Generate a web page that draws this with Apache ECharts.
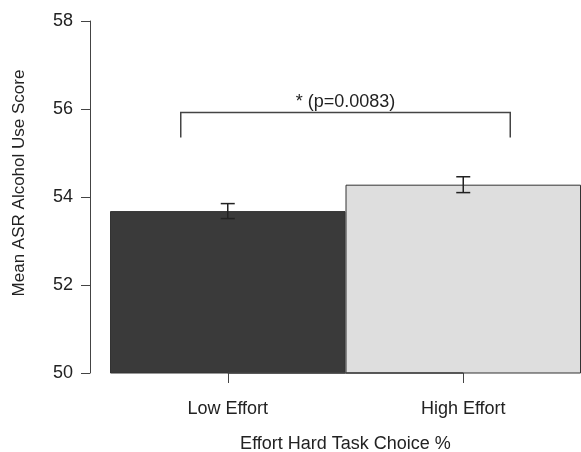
<!DOCTYPE html>
<html>
<head>
<meta charset="utf-8">
<script src="https://cdn.jsdelivr.net/npm/echarts@6/dist/echarts.min.js"></script>
<style>
  * { padding: 0; margin: 0; }
  body { background: #fff; }
  #main { width: 581px; height: 452px; }
</style>
</head>
<body>
<div id="main"></div>
<script>
// data
var categories = ['Low Effort', 'High Effort'];
var means = [53.68, 54.28];
var errLow = [53.51, 54.10];
var errHigh = [53.85, 54.46];
var barColors = ['#3a3a3a', '#dedede'];
var yTicks = [50, 52, 54, 56, 58];
// significance bracket
var bracketTop = 55.92;
var bracketFoot = 55.35;
var bracketLabel = '* (p=0.0083)';

var font = 'Liberation Sans, Arial, sans-serif';
var ink = '#222';
var lineCol = '#444';

var chart = echarts.init(document.getElementById('main'));
chart.setOption({
  backgroundColor: '#fff',
  animation: false,
  textStyle: { fontFamily: font },
  grid: { left: 110, right: 0, top: 21, bottom: 79, containLabel: false, outerBoundsMode: 'none' },
  xAxis: {
    type: 'category',
    data: categories,
    axisLine: { show: false },
    axisTick: { show: true, alignWithLabel: true, length: 10, lineStyle: { color: lineCol } },
    axisLabel: { color: ink, fontSize: 18, margin: 27 },
    name: 'Effort Hard Task Choice %',
    nameLocation: 'middle',
    nameGap: 62,
    nameTextStyle: { color: ink, fontSize: 18 }
  },
  yAxis: {
    type: 'value',
    min: yTicks[0],
    max: yTicks[yTicks.length - 1],
    interval: 2,
    offset: 20,
    splitLine: { show: false },
    axisLine: { show: true, lineStyle: { color: lineCol } },
    axisTick: { show: true, length: 9, lineStyle: { color: lineCol } },
    axisLabel: { color: ink, fontSize: 18, margin: 17 },
    name: 'Mean ASR Alcohol Use Score',
    nameLocation: 'middle',
    nameGap: 62,
    nameTextStyle: { color: ink, fontSize: 17, padding: [0, 0, 0, 28] }
  },
  series: [
    {
      type: 'bar',
      barWidth: '100%',
      data: means.map(function (v, i) {
        return { value: v, itemStyle: { color: barColors[i] } };
      }),
      itemStyle: { borderColor: '#333', borderWidth: 1 }
    },
    {
      // x axis line between the two category ticks
      type: 'custom',
      data: [[0, 1]],
      renderItem: function (params, api) {
        var a = api.coord([0, yTicks[0]]);
        var b = api.coord([1, yTicks[0]]);
        return {
          type: 'line',
          shape: { x1: a[0], y1: a[1], x2: b[0], y2: b[1] },
          style: { stroke: lineCol, lineWidth: 1.5 }
        };
      },
      z: 5
    },
    {
      type: 'custom',
      data: categories.map(function (c, i) { return [i, errLow[i], errHigh[i]]; }),
      renderItem: function (params, api) {
        var lo = api.coord([api.value(0), api.value(1)]);
        var hi = api.coord([api.value(0), api.value(2)]);
        var w = 7;
        var st = { stroke: '#222', lineWidth: 1.5 };
        return {
          type: 'group',
          children: [
            { type: 'line', shape: { x1: lo[0], y1: lo[1], x2: hi[0], y2: hi[1] }, style: st },
            { type: 'line', shape: { x1: lo[0] - w, y1: lo[1], x2: lo[0] + w, y2: lo[1] }, style: st },
            { type: 'line', shape: { x1: hi[0] - w, y1: hi[1], x2: hi[0] + w, y2: hi[1] }, style: st }
          ]
        };
      },
      z: 6
    },
    {
      type: 'custom',
      data: [[0, 1]],
      renderItem: function (params, api) {
        var l = api.coord([0, bracketTop]);
        var r = api.coord([1, bracketTop]);
        var lf = api.coord([0, bracketFoot]);
        var rf = api.coord([1, bracketFoot]);
        // legs sit a little in from the category centres
        var inset = 47;
        var st = { stroke: lineCol, lineWidth: 1.5, fill: null };
        return {
          type: 'group',
          children: [
            {
              type: 'polyline',
              shape: { points: [[lf[0] - inset, lf[1]], [l[0] - inset, l[1]], [r[0] + inset, r[1]], [rf[0] + inset, rf[1]]] },
              style: st
            },
            {
              type: 'text',
              x: (l[0] + r[0]) / 2,
              y: l[1] - 1,
              style: { text: bracketLabel, fill: ink, fontSize: 18, fontFamily: font, align: 'center', verticalAlign: 'bottom' }
            }
          ]
        };
      },
      z: 6
    }
  ]
});
</script>
</body>
</html>
